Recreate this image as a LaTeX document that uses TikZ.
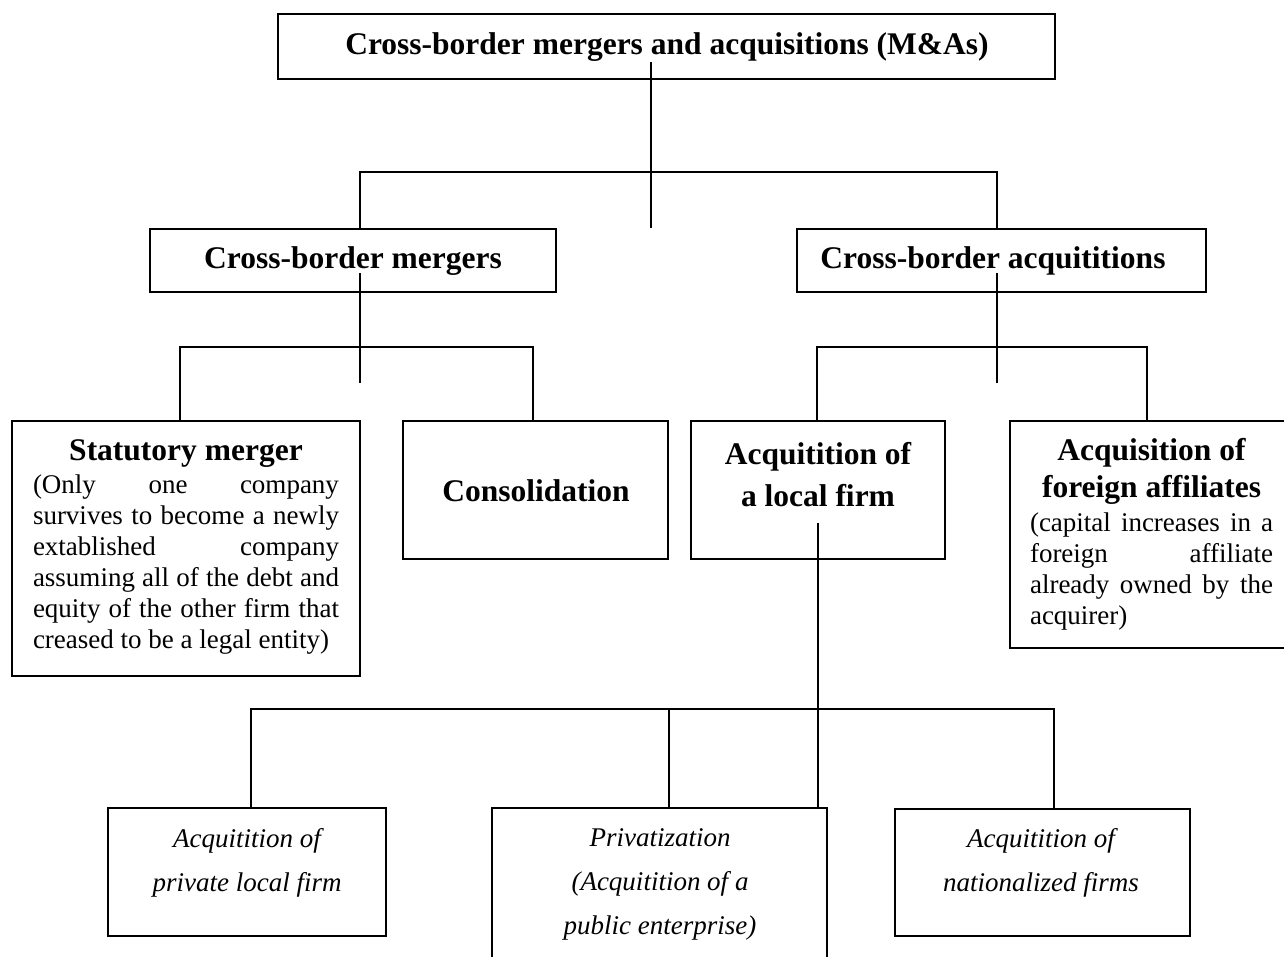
\documentclass[tikz,border=0pt]{standalone}
\usepackage{fontspec}
\setmainfont{Liberation Serif}
\newcommand{\jline}[2]{\makebox[#1][s]{#2}}

\begin{document}
\begin{tikzpicture}[x=1pt, y=-1pt]
          \tikzstyle{box}=[draw, rectangle, line width=2pt, inner sep=0pt]
          \tikzstyle{link}=[line width=2pt]
          \tikzstyle{head}=[inner sep=0pt, align=center, font=\fontsize{31.5}{38}\selectfont\bfseries]
          \tikzstyle{note}=[inner sep=0pt, align=left, font=\fontsize{27}{31}\selectfont]
          \tikzstyle{leaf}=[inner sep=0pt, align=center, font=\fontsize{27}{44}\selectfont\itshape]

          \useasboundingbox (0, 0) rectangle (1284, 956);
          \clip (0, 0) rectangle (1284, 956);

          % boxes
          \node (top) at (666.5, 46.5) [box, minimum width=777pt, minimum height=65pt] {};
          \node (mergers) at (353, 260.5) [box, minimum width=406pt, minimum height=63pt] {};
          \node (acq) at (1001.5, 260.5) [box, minimum width=409pt, minimum height=63pt] {};
          \node (statutory) at (186, 548.5) [box, minimum width=348pt, minimum height=255pt] {};
          \node (consol) at (535.5, 490) [box, minimum width=265pt, minimum height=138pt] {};
          \node (local) at (818, 490) [box, minimum width=254pt, minimum height=138pt] {};
          \node (foreign) at (1152.5, 534.5) [box, minimum width=285pt, minimum height=227pt] {};
          \node (private) at (247, 872) [box, minimum width=278pt, minimum height=128pt] {};
          \node (privat) at (659.5, 891.5) [box, minimum width=335pt, minimum height=167pt] {};
          \node (nation) at (1042.5, 872) [box, minimum width=295pt, minimum height=127pt] {};

          % labels
          \node (toplabel) at (667, 47) [head] {Cross-border mergers and acquisitions (M\&As)};
          \node (mergerslabel) at (353, 261) [head] {Cross-border mergers};
          \node (acqlabel) at (993, 261) [head] {Cross-border acquititions};
          \node (statutoryhead) at (186, 454) [head] {Statutory merger};
          \node (statutorytext) at (186, 565) [note]
            {\jline{306pt}{(Only one company}\\
             \jline{306pt}{survives to become a newly}\\
             \jline{306pt}{extablished company}\\
             \jline{306pt}{assuming all of the debt and}\\
             \jline{306pt}{equity of the other firm that}\\
             \makebox[306pt][l]{creased to be a legal entity)}};
          \node (consollabel) at (536, 491) [head] {Consolidation};
          \node (locallabel) at (818, 475) [head, font=\fontsize{31.5}{42}\selectfont\bfseries] {Acquitition of\\a local firm};
          \node (foreignhead) at (1151.5, 471) [head, font=\fontsize{31.5}{37}\selectfont\bfseries] {Acquisition of\\foreign affiliates};
          \node (foreigntext) at (1151.5, 571) [note]
            {\jline{243pt}{(capital increases in a}\\
             \jline{243pt}{foreign affiliate}\\
             \jline{243pt}{already owned by the}\\
             \makebox[243pt][l]{acquirer)}};
          \node (privatelabel) at (247, 863) [leaf] {Acquitition of\\private local firm};
          \node (privatlabel) at (660, 884) [leaf] {Privatization\\(Acquitition of a\\public enterprise)};
          \node (nationlabel) at (1041, 863) [leaf] {Acquitition of\\nationalized firms};

          % connectors
          \coordinate (topstem) at (651, 62);
          \coordinate (topend) at (651, 228);
          \coordinate (barAl) at (360, 172);
          \coordinate (barAr) at (997, 172);
          \draw [link] (topstem) -- (topend);
          \draw [link] (barAl |- mergers.north) -- (barAl) -- (barAr) -- (barAr |- acq.north);

          \coordinate (mstem) at (360, 273);
          \coordinate (mend) at (360, 383);
          \coordinate (barBl) at (180, 347);
          \coordinate (barBr) at (533, 347);
          \draw [link] (mstem) -- (mend);
          \draw [link] (barBl |- statutory.north) -- (barBl) -- (barBr) -- (barBr |- consol.north);

          \coordinate (astem) at (997, 273);
          \coordinate (aend) at (997, 383);
          \coordinate (barCl) at (817, 347);
          \coordinate (barCr) at (1147, 347);
          \draw [link] (astem) -- (aend);
          \draw [link] (barCl |- local.north) -- (barCl) -- (barCr) -- (barCr |- foreign.north);

          \coordinate (lstem) at (818, 523);
          \coordinate (barDl) at (251, 709);
          \coordinate (barDm) at (669, 709);
          \coordinate (barDr) at (1054, 709);
          \draw [link] (lstem) -- (lstem |- privat.north);
          \draw [link] (barDl |- private.north) -- (barDl) -- (barDr) -- (barDr |- nation.north);
          \draw [link] (barDm) -- (barDm |- privat.north);
        \end{tikzpicture}
\end{document}
